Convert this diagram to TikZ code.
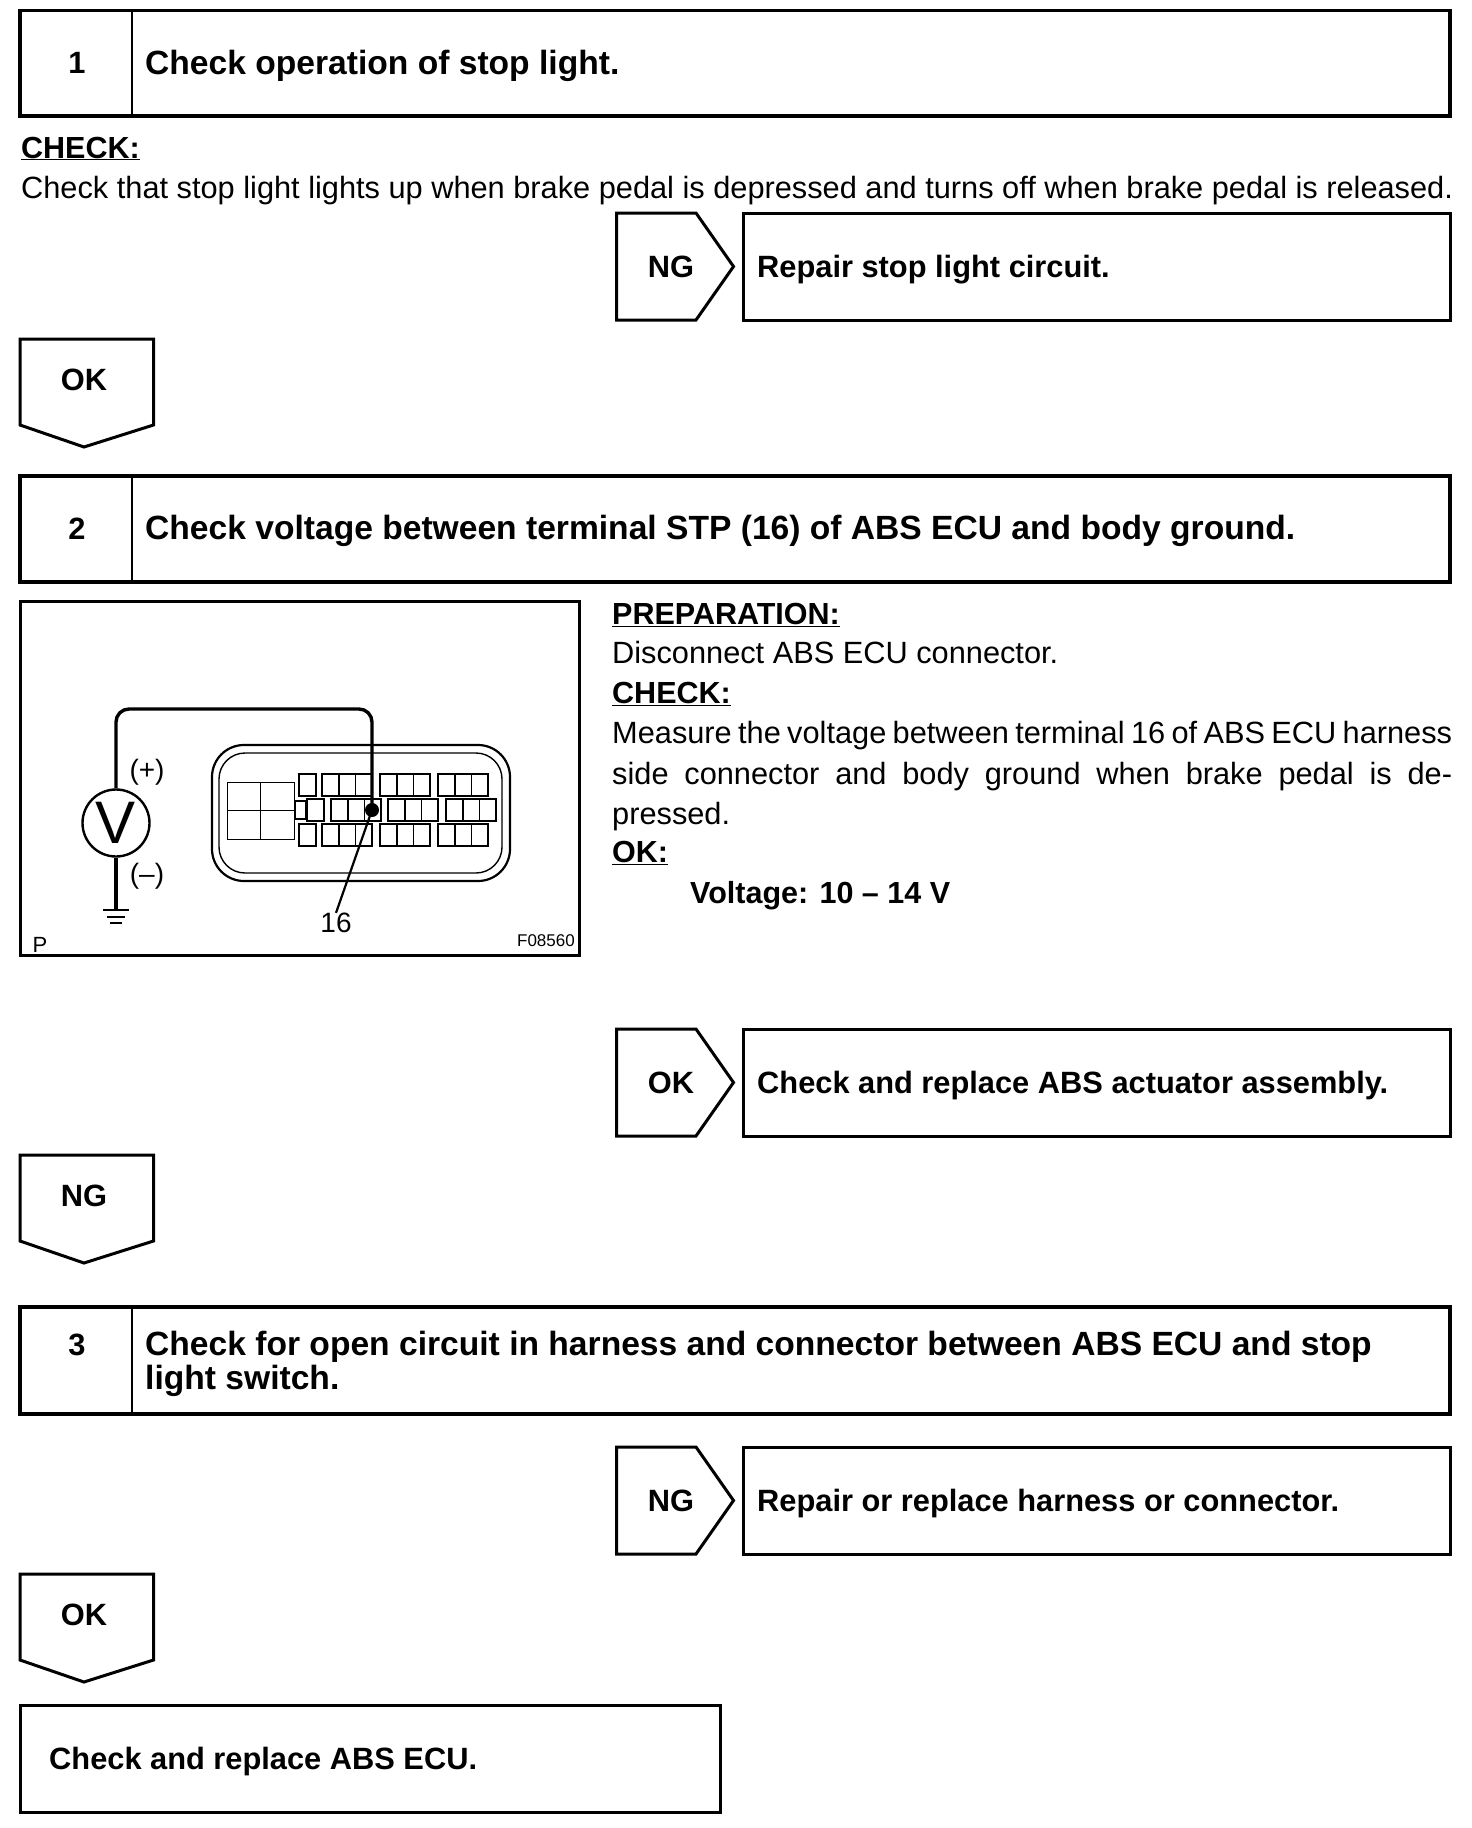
\documentclass[tikz,border=0pt]{standalone}
\usepackage{fontspec}
\setmainfont{Liberation Sans}
\newcommand{\bodyf}{\fontsize{30.75}{40}\selectfont}
\newcommand{\strongf}{\fontsize{30.5}{40}\selectfont\bfseries}
\newcommand{\headf}{\fontsize{33.6}{34}\selectfont\bfseries}
\newcommand{\resf}{\fontsize{30.8}{34}\selectfont\bfseries}
\newcommand{\just}[1]{\makebox[840pt][s]{#1}}
\tikzset{
  x=1pt,y=-1pt,
  frame/.style={draw=black,line width=3.4pt,line join=miter},
  resultbox/.style={draw=black,line width=3pt,line join=miter},
  thinrule/.style={draw=black,line width=2.6pt},
  badge/.style={draw=black,line width=3pt,line join=miter},
  head/.style={anchor=base west,inner sep=0pt,font=\headf},
  result/.style={anchor=base west,inner sep=0pt,font=\resf},
  numb/.style={anchor=base,inner sep=0pt,font=\resf},
  bodytext/.style={anchor=base west,inner sep=0pt,font=\bodyf},
  strongtext/.style={anchor=base west,inner sep=0pt,font=\strongf},
  cell/.style={draw=black,line width=2.2pt},
  cellmid/.style={draw=black,line width=1.3pt},
  wire/.style={draw=black,line width=3.4pt,rounded corners=13pt},
  shell/.style={draw=black,line width=#1},
}
\newcommand{\tripleh}[3]{% x-left, y-top, y-bottom: triple cell 50 wide
  \draw[cell] (#1,#2) rectangle ++(50,#3-#2);
  \draw[cellmid] (#1+17,#2) -- (#1+17,#3) (#1+33.5,#2) -- (#1+33.5,#3);
}
\newcommand{\rightbadge}[1]{% top y
  \draw[badge] (616.5,#1) -- (696,#1) -- (733.5,#1+53.5) -- (696,#1+107) -- (616.5,#1+107) -- cycle;
}
\newcommand{\downbadge}[1]{% top y
  \draw[badge] (20,#1) -- (153.5,#1) -- (153.5,#1+86) -- (84,#1+108) -- (20,#1+86) -- cycle;
}
\begin{document}
\begin{tikzpicture}
\useasboundingbox (0,0) rectangle (1472,1828);
% Step 1
\draw[frame] (20,10.5) rectangle (1450,116);
\draw[thinrule] (132,10.5) -- (132,116);
\node[numb] (n1) at (77,74) {1};
\node[head] (t1) at (145,74.5) {Check operation of stop light.};
\node[strongtext] (c1) at (21,158) {\underline{CHECK:}};
\node[bodytext] (c1b) at (21,198) {Check that stop light lights up when brake pedal is depressed and turns off when brake pedal is released.};
\rightbadge{213}
\node[numb] (ng1) at (671,277) {NG};
\draw[resultbox] (743.5,213) rectangle (1450,320);
\node[result] (r1) at (757,277) {Repair stop light circuit.};
\downbadge{339}
\node[numb] (ok1) at (84,390.5) {OK};
% Step 2
\draw[frame] (20,476) rectangle (1450,582);
\draw[thinrule] (132,476) -- (132,582);
\node[numb] (n2) at (77,539) {2};
\node[head] (t2) at (145,539) {Check voltage between terminal STP (16) of ABS ECU and body ground.};
% Figure
\draw[draw=black,line width=3pt] (20,601.5) rectangle (579.5,955);
\draw[shell=2.2pt,rounded corners=32pt] (212,745) rectangle (510,881);
\draw[shell=1.4pt,rounded corners=26pt] (219,753) rectangle (502,873);
\draw[draw=black,line width=1pt] (227,782) rectangle (294,839) (260,782) -- (260,839) (227,810) -- (294,810);
% rows 1 and 3
\foreach \yt/\yb in {774/796,824/846}{
  \draw[cell] (299,\yt) rectangle (316,\yb);
  \tripleh{322}{\yt}{\yb}
  \tripleh{380}{\yt}{\yb}
  \tripleh{438}{\yt}{\yb}
}
% row 2
\draw[cellmid] (295,801) rectangle (306,819);
\draw[cell] (307,799) rectangle (324,821);
\tripleh{331}{799}{821}
\tripleh{388}{799}{821}
\tripleh{446}{799}{821}
% meter
\node[circle,draw=black,line width=2.4pt,minimum size=67pt,inner sep=0pt,font=\fontsize{60}{60}\selectfont] (vm) at (116,823) {V};
\node[circle,fill=black,minimum size=14pt,inner sep=0pt] (t16) at (372,810) {};
\coordinate (gnd) at (116,910);
\draw[wire] (vm.north) -- (116,709) -- (372,709) -- (t16.center);
\draw[draw=black,line width=3.4pt] (vm.south) -- (gnd);
\draw[draw=black,line width=2.8pt] (103,910) -- (129,910);
\draw[draw=black,line width=1.8pt] (107,917) -- (125,917);
\draw[draw=black,line width=1.2pt] (110,923) -- (122,923);
\node[inner sep=0pt,font=\fontsize{28}{28}\selectfont] (plus) at (147,772) {(+)};
\node[inner sep=0pt,font=\fontsize{28}{28}\selectfont] (minus) at (147,876) {(–)};
\node[inner sep=0pt,font=\fontsize{28}{28}\selectfont] (lab16) at (336,923) {16};
\draw[draw=black,line width=2.2pt] (t16.center) -- (lab16.north);
\node[inner sep=0pt,font=\fontsize{22}{22}\selectfont] (p) at (40,945) {P};
\node[inner sep=0pt,anchor=east,font=\fontsize{17}{17}\selectfont] (code) at (575,941) {F08560};
% Right column
\node[strongtext] (pr) at (612,624) {\underline{PREPARATION:}};
\node[bodytext] (pr1) at (612,663) {Disconnect ABS ECU connector.};
\node[strongtext] (ch) at (612,703) {\underline{CHECK:}};
\node[bodytext] (m1) at (612,743) {\just{Measure the voltage between terminal 16 of ABS ECU harness}};
\node[bodytext] (m2) at (612,784) {\just{side connector and body ground when brake pedal is de-}};
\node[bodytext] (m3) at (612,824) {pressed.};
\node[strongtext] (ok) at (612,862) {\underline{OK:}};
\node[strongtext] (vv) at (690,903) {Voltage: 10 – 14 V};
\rightbadge{1029}
\node[numb] (ok2) at (671,1093) {OK};
\draw[resultbox] (743.5,1029) rectangle (1450,1136);
\node[result] (r2) at (757,1093) {Check and replace ABS actuator assembly.};
\downbadge{1155}
\node[numb] (ng2) at (84,1206.5) {NG};
% Step 3
\draw[frame] (20,1307) rectangle (1450,1414);
\draw[thinrule] (132,1307) -- (132,1414);
\node[numb] (n3) at (77,1355) {3};
\node[head] (t3a) at (145,1355) {Check for open circuit in harness and connector between ABS ECU and stop};
\node[head] (t3b) at (145,1389) {light switch.};
\rightbadge{1447}
\node[numb] (ng3) at (671,1511) {NG};
\draw[resultbox] (743.5,1447) rectangle (1450,1554);
\node[result] (r3) at (757,1511) {Repair or replace harness or connector.};
\downbadge{1574}
\node[numb] (ok3) at (84,1625.5) {OK};
\draw[resultbox] (20,1705) rectangle (720,1812);
\node[result] (r4) at (49,1769) {Check and replace ABS ECU.};
\end{tikzpicture}
\end{document}
